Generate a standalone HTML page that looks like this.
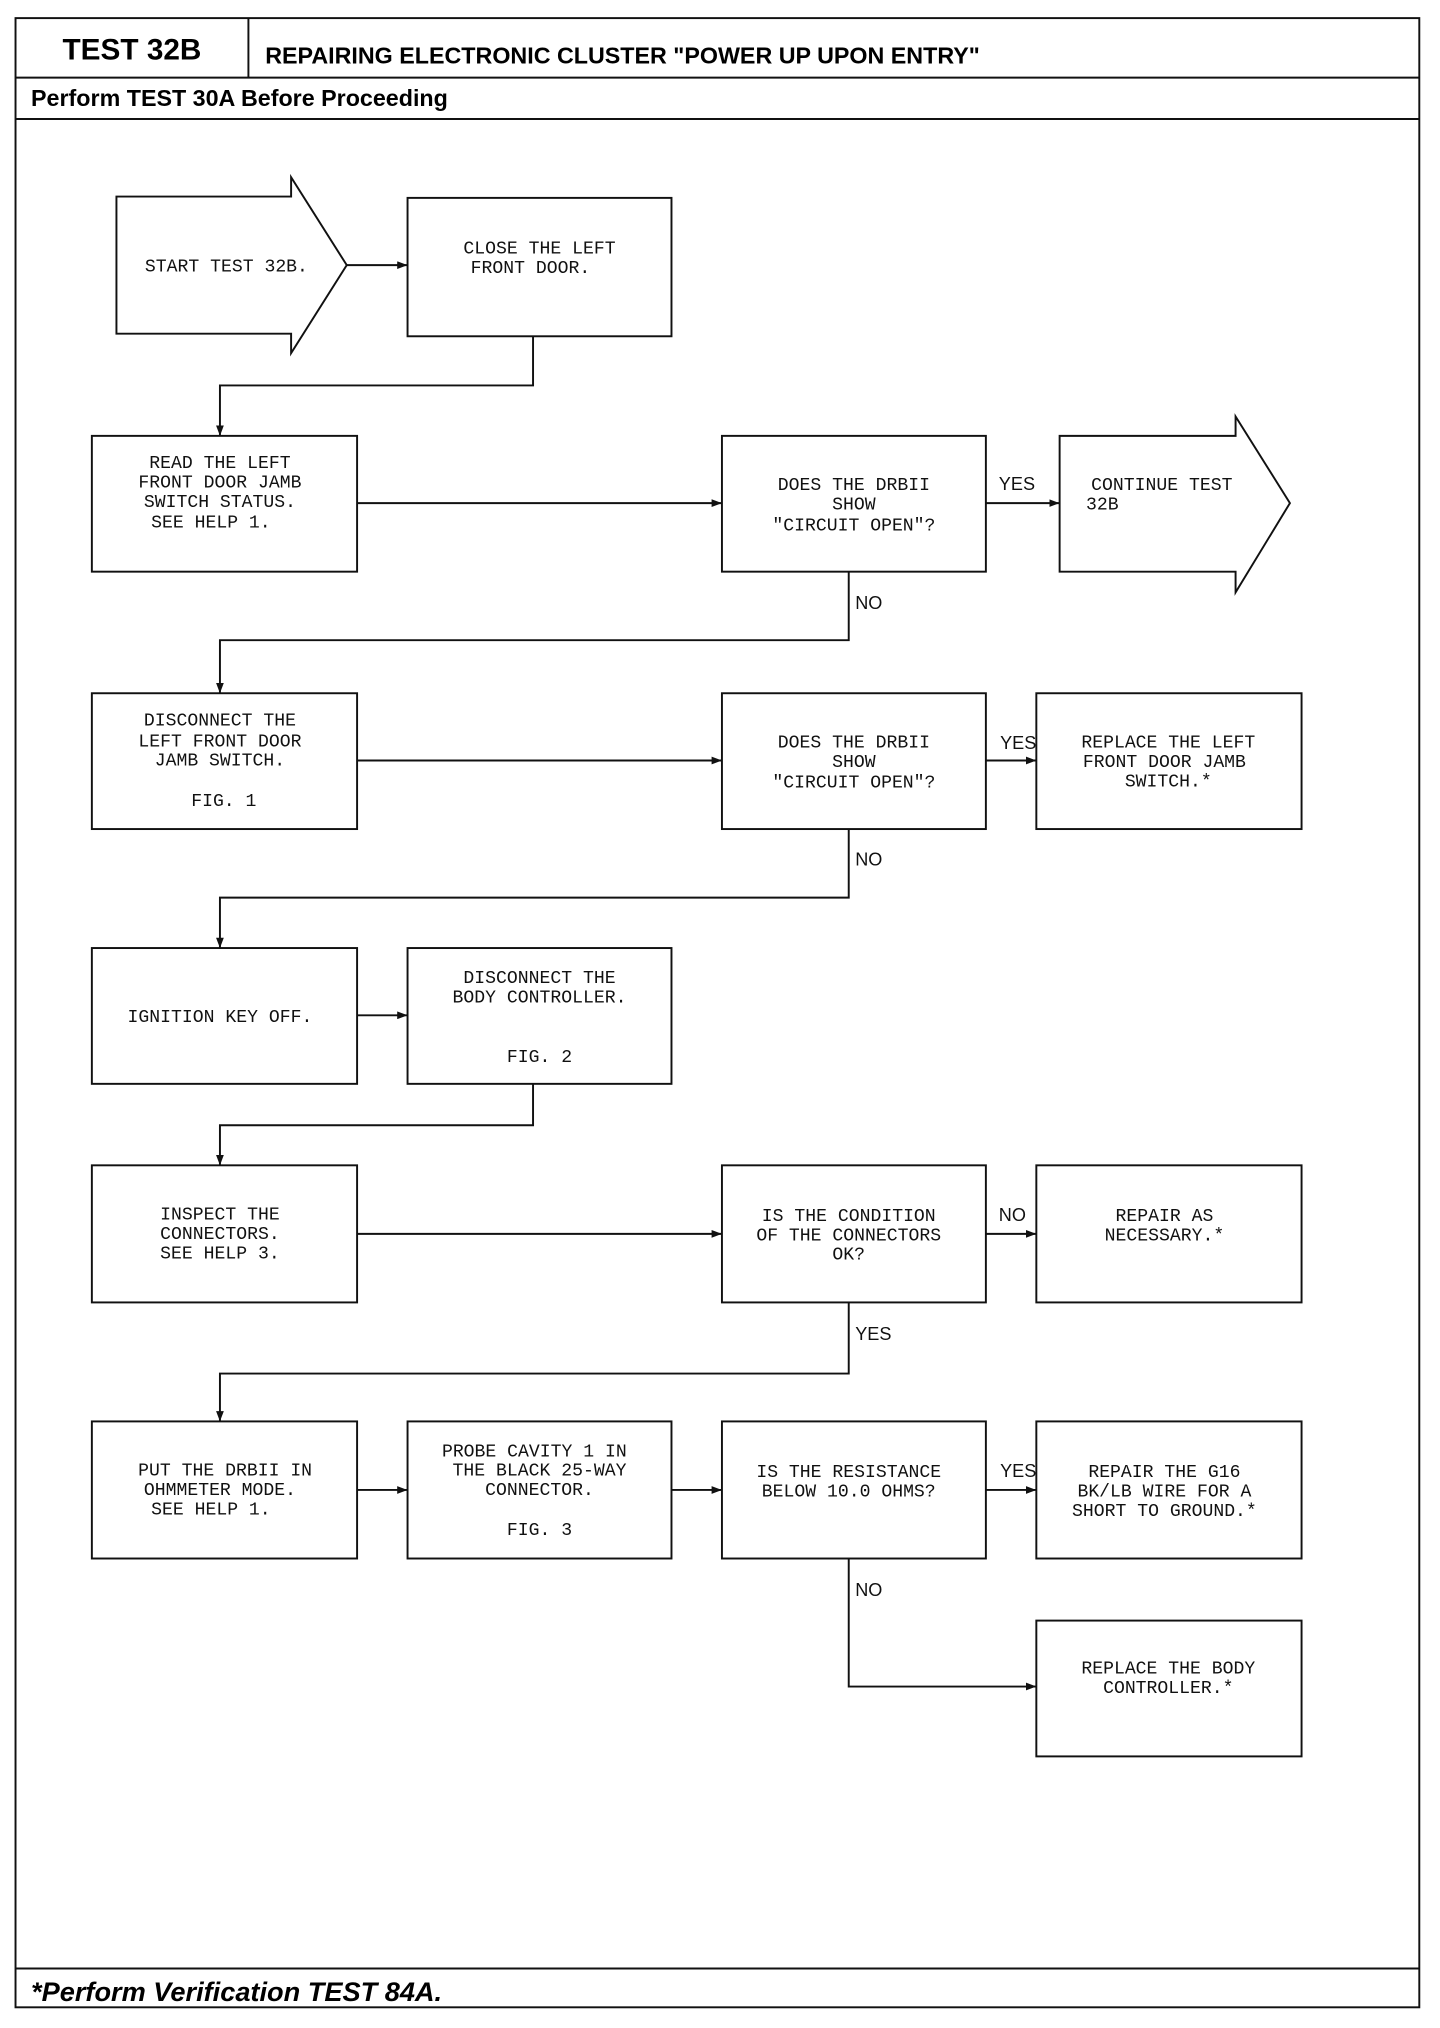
<!DOCTYPE html>
<html><head><meta charset="utf-8"><style>
html,body{margin:0;padding:0;background:#fff;}
svg{display:block}
.t{font-family:"Liberation Mono",monospace;font-size:14px;fill:#111;text-anchor:middle}
.l{font-family:"Liberation Sans",sans-serif;font-size:14px;fill:#111}
</style></head><body>
<svg width="1440" height="2028" viewBox="0 0 1113 1568" preserveAspectRatio="none" xmlns="http://www.w3.org/2000/svg">
<defs><marker id="a" markerWidth="8" markerHeight="6" refX="8" refY="3" orient="auto" markerUnits="userSpaceOnUse"><path d="M0,0 L8,3 L0,6 z" fill="#111"/></marker></defs>
<g fill="none" stroke="#111" stroke-width="1.5">
<rect x="12" y="14" width="1085" height="1538"/>
<line x1="12" y1="60" x2="1097" y2="60"/>
<line x1="192" y1="14" x2="192" y2="60"/>
<line x1="12" y1="92" x2="1097" y2="92"/>
<line x1="12" y1="1522" x2="1097" y2="1522"/>
<polygon points="90,152 225,152 225,137 268,205 225,273 225,258 90,258"/>
<rect x="315" y="153" width="204" height="107"/>
<line x1="268" y1="205" x2="315" y2="205" marker-end="url(#a)"/>
<polyline points="412,260 412,298 170,298 170,337" marker-end="url(#a)"/>
<rect x="71" y="337" width="205" height="105"/>
<line x1="276" y1="389" x2="558" y2="389" marker-end="url(#a)"/>
<rect x="558" y="337" width="204" height="105"/>
<line x1="762" y1="389" x2="819" y2="389" marker-end="url(#a)"/>
<polygon points="819,337 955,337 955,322 997,389 955,458 955,442 819,442"/>
<polyline points="656,442 656,495 170,495 170,536" marker-end="url(#a)"/>
<rect x="71" y="536" width="205" height="105"/>
<line x1="276" y1="588" x2="558" y2="588" marker-end="url(#a)"/>
<rect x="558" y="536" width="204" height="105"/>
<line x1="762" y1="588" x2="801" y2="588" marker-end="url(#a)"/>
<rect x="801" y="536" width="205" height="105"/>
<polyline points="656,641 656,694 170,694 170,733" marker-end="url(#a)"/>
<rect x="71" y="733" width="205" height="105"/>
<line x1="276" y1="785" x2="315" y2="785" marker-end="url(#a)"/>
<rect x="315" y="733" width="204" height="105"/>
<polyline points="412,838 412,870 170,870 170,901" marker-end="url(#a)"/>
<rect x="71" y="901" width="205" height="106"/>
<line x1="276" y1="954" x2="558" y2="954" marker-end="url(#a)"/>
<rect x="558" y="901" width="204" height="106"/>
<line x1="762" y1="954" x2="801" y2="954" marker-end="url(#a)"/>
<rect x="801" y="901" width="205" height="106"/>
<polyline points="656,1007 656,1062 170,1062 170,1099" marker-end="url(#a)"/>
<rect x="71" y="1099" width="205" height="106"/>
<line x1="276" y1="1152" x2="315" y2="1152" marker-end="url(#a)"/>
<rect x="315" y="1099" width="204" height="106"/>
<line x1="519" y1="1152" x2="558" y2="1152" marker-end="url(#a)"/>
<rect x="558" y="1099" width="204" height="106"/>
<line x1="762" y1="1152" x2="801" y2="1152" marker-end="url(#a)"/>
<rect x="801" y="1099" width="205" height="106"/>
<polyline points="656,1205 656,1304 801,1304" marker-end="url(#a)"/>
<rect x="801" y="1253" width="205" height="105"/>
</g>
<text x="102" y="46" font-family="Liberation Sans,sans-serif" font-weight="bold" font-size="23" text-anchor="middle">TEST 32B</text>
<text x="205" y="49" font-family="Liberation Sans,sans-serif" font-weight="bold" font-size="18">REPAIRING ELECTRONIC CLUSTER "POWER UP UPON ENTRY"</text>
<text x="24" y="82" font-family="Liberation Sans,sans-serif" font-weight="bold" font-size="18">Perform TEST 30A Before Proceeding</text>
<text x="24" y="1547" font-family="Liberation Sans,sans-serif" font-weight="bold" font-style="italic" font-size="21">*Perform Verification TEST 84A.</text>
<g class="t">
<text x="175" y="210">START TEST 32B.</text>
<text x="417" y="196">CLOSE THE LEFT</text><text x="410" y="211">FRONT DOOR.</text>
<text x="170" y="362">READ THE LEFT</text><text x="170" y="377">FRONT DOOR JAMB</text><text x="170" y="392">SWITCH STATUS.</text><text x="163" y="408">SEE HELP 1.</text>
<text x="660" y="379">DOES THE DRBII</text><text x="660" y="394">SHOW</text><text x="660" y="410">"CIRCUIT OPEN"?</text>
<text x="898" y="379">CONTINUE TEST</text><text x="852" y="394">32B</text>
<text x="170" y="561">DISCONNECT THE</text><text x="170" y="577">LEFT FRONT DOOR</text><text x="170" y="592">JAMB SWITCH.</text><text x="173" y="623">FIG. 1</text>
<text x="660" y="578">DOES THE DRBII</text><text x="660" y="593">SHOW</text><text x="660" y="609">"CIRCUIT OPEN"?</text>
<text x="903" y="578">REPLACE THE LEFT</text><text x="900" y="593">FRONT DOOR JAMB</text><text x="903" y="608">SWITCH.*</text>
<text x="170" y="790">IGNITION KEY OFF.</text>
<text x="417" y="760">DISCONNECT THE</text><text x="417" y="775">BODY CONTROLLER.</text><text x="417" y="821">FIG. 2</text>
<text x="170" y="943">INSPECT THE</text><text x="170" y="958">CONNECTORS.</text><text x="170" y="973">SEE HELP 3.</text>
<text x="656" y="944">IS THE CONDITION</text><text x="656" y="959">OF THE CONNECTORS</text><text x="656" y="974">OK?</text>
<text x="900" y="944">REPAIR AS</text><text x="900" y="959">NECESSARY.*</text>
<text x="174" y="1141">PUT THE DRBII IN</text><text x="170" y="1156">OHMMETER MODE.</text><text x="163" y="1171">SEE HELP 1.</text>
<text x="413" y="1126">PROBE CAVITY 1 IN</text><text x="417" y="1141">THE BLACK 25-WAY</text><text x="417" y="1156">CONNECTOR.</text><text x="417" y="1187">FIG. 3</text>
<text x="656" y="1142">IS THE RESISTANCE</text><text x="656" y="1157">BELOW 10.0 OHMS?</text>
<text x="900" y="1142">REPAIR THE G16</text><text x="900" y="1157">BK/LB WIRE FOR A</text><text x="900" y="1172">SHORT TO GROUND.*</text>
<text x="903" y="1294">REPLACE THE BODY</text><text x="903" y="1309">CONTROLLER.*</text>
</g>
<g class="l">
<text x="772" y="379">YES</text><text x="661" y="471">NO</text>
<text x="773" y="579">YES</text><text x="661" y="669">NO</text>
<text x="772" y="944">NO</text><text x="661" y="1036">YES</text>
<text x="773" y="1142">YES</text><text x="661" y="1234">NO</text>
</g>
</svg>
</body></html>
